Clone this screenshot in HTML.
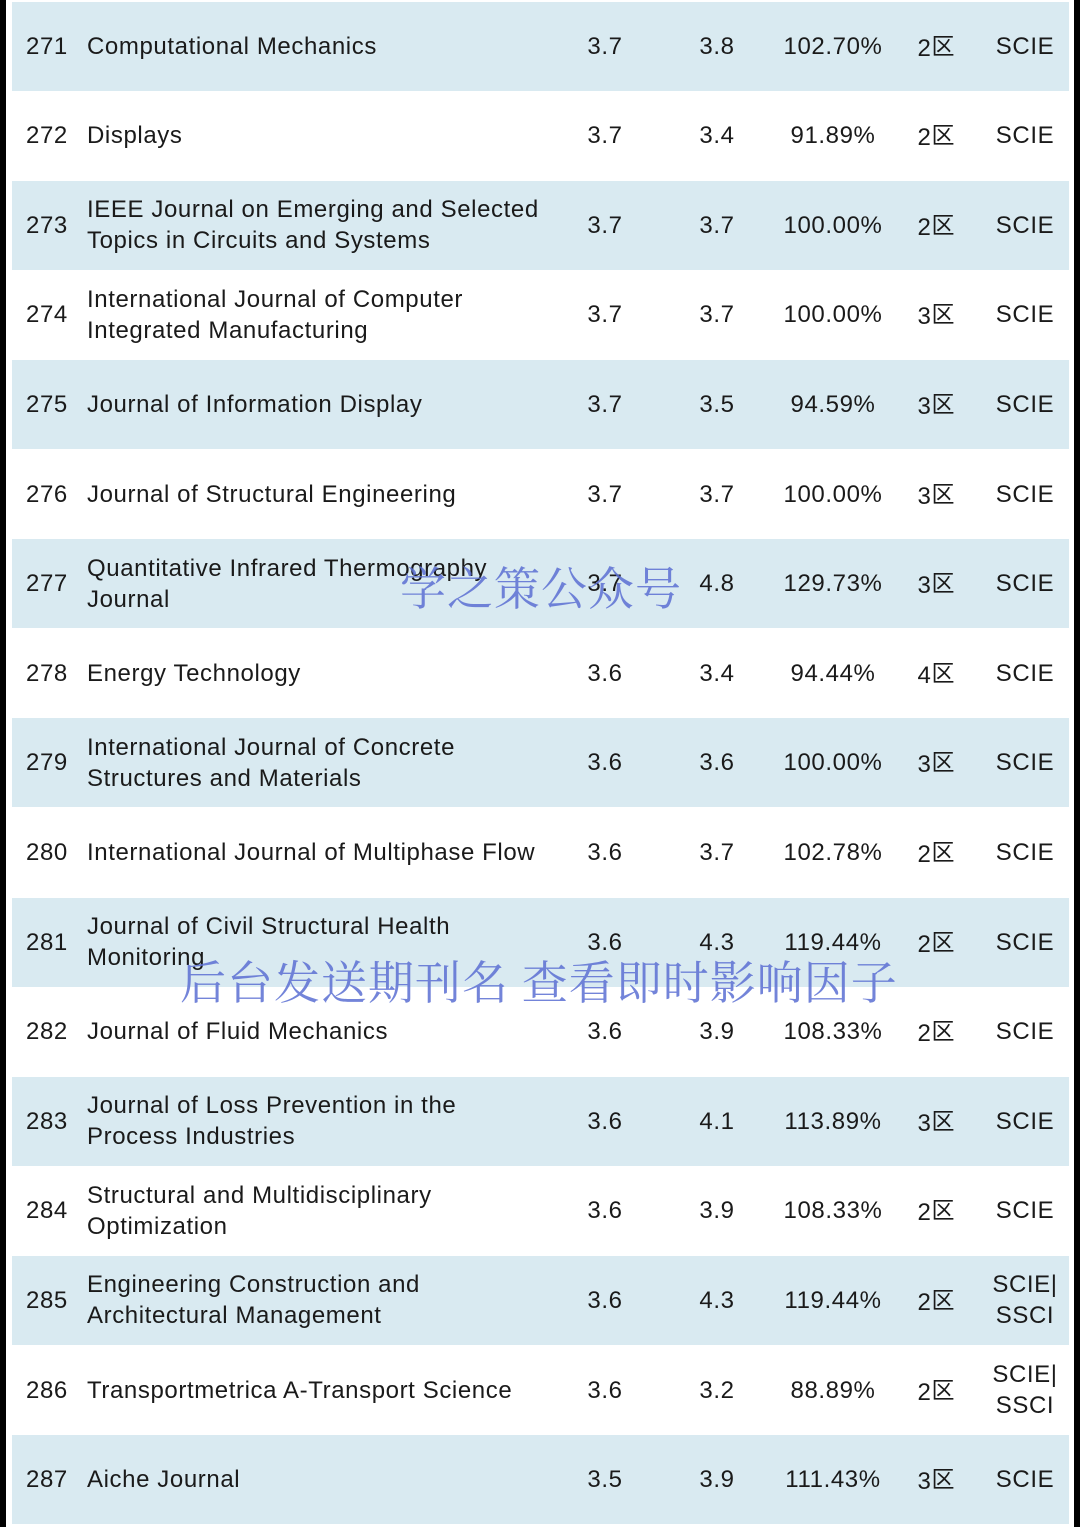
<!DOCTYPE html>
<html><head><meta charset="utf-8">
<style>
html,body{margin:0;padding:0;}
body{width:1080px;height:1527px;position:relative;background:#fff;overflow:hidden;font-family:"Liberation Sans",Arial,sans-serif;color:#1a1a1a;}
.edge{position:absolute;top:0;height:1527px;background:#000;}
.row{position:absolute;left:12px;width:1057px;height:89px;}
.shade{background:#d9eaf1;}
.c{position:absolute;font-size:24px;letter-spacing:0.6px;line-height:31px;white-space:nowrap;}
.ctr{transform:translateX(-50%);text-align:center;}
.z{font-family:"Noto Sans CJK SC",sans-serif;font-size:23px;position:relative;top:-2px;letter-spacing:0;}
.wm{position:absolute;font-family:"Noto Serif CJK SC","WenQuanYi Zen Hei",serif;color:rgba(90,110,210,0.85);white-space:nowrap;font-size:46px;letter-spacing:1px;}
</style></head>
<body>
<div class="edge" style="left:0;width:6px"></div>
<div class="edge" style="left:1074px;width:6px"></div>
<div id="tbl"></div>
<div class="wm" style="left:400px;top:553px;">学之策公众号</div>
<div class="wm" style="left:180px;top:947px;">后台发送期刊名 查看即时影响因子</div>
<script>
const ranks=[271,272,273,274,275,276,277,278,279,280,281,282,283,284,285,286,287];
const names=[["Computational Mechanics"],["Displays"],["IEEE Journal on Emerging and Selected","Topics in Circuits and Systems"],["International Journal of Computer","Integrated Manufacturing"],["Journal of Information Display"],["Journal of Structural Engineering"],["Quantitative Infrared Thermography","Journal"],["Energy Technology"],["International Journal of Concrete","Structures and Materials"],["International Journal of Multiphase Flow"],["Journal of Civil Structural Health","Monitoring"],["Journal of Fluid Mechanics"],["Journal of Loss Prevention in the","Process Industries"],["Structural and Multidisciplinary","Optimization"],["Engineering Construction and","Architectural Management"],["Transportmetrica A-Transport Science"],["Aiche Journal"]];
const if1=["3.7","3.7","3.7","3.7","3.7","3.7","3.7","3.6","3.6","3.6","3.6","3.6","3.6","3.6","3.6","3.6","3.5"];
const if2=["3.8","3.4","3.7","3.7","3.5","3.7","4.8","3.4","3.6","3.7","4.3","3.9","4.1","3.9","4.3","3.2","3.9"];
const pct=["102.70%","91.89%","100.00%","100.00%","94.59%","100.00%","129.73%","94.44%","100.00%","102.78%","119.44%","108.33%","113.89%","108.33%","119.44%","88.89%","111.43%"];
const zone=["2区","2区","2区","3区","3区","3区","3区","4区","3区","2区","2区","2区","3区","2区","2区","2区","3区"];
const idx=[["SCIE"],["SCIE"],["SCIE"],["SCIE"],["SCIE"],["SCIE"],["SCIE"],["SCIE"],["SCIE"],["SCIE"],["SCIE"],["SCIE"],["SCIE"],["SCIE"],["SCIE|","SSCI"],["SCIE|","SSCI"],["SCIE"]];
const tbl=document.getElementById('tbl');
const P=89.6;
function cell(row,txt,left,center,cy,lines){
  const d=document.createElement('div');
  d.className='c'+(center?' ctr':'');
  d.style.left=left+'px';
  d.style.top=(cy-lines*15.5)+'px';
  d.innerHTML=txt;
  row.appendChild(d);return d;
}
ranks.forEach((r,i)=>{
  const row=document.createElement('div');
  
  
  row.className='row'+(i%2===0?' shade':'');
  row.style.top=(1.5+i*P)+'px';
  tbl.appendChild(row);
  const cy=44.5;
  let e;
  e=cell(row,r,14,false,cy,1);
  
  
  e=cell(row,names[i].join('<br>'),75,false,cy,names[i].length);
  
  
  e=cell(row,if1[i],593,true,cy,1);
  
  
  e=cell(row,if2[i],705,true,cy,1);
  
  
  e=cell(row,pct[i],821,true,cy,1);
  
  
  e=cell(row,zone[i].replace('区','<span class="z">区</span>'),924,true,cy,1);
  
  
  e=cell(row,idx[i].join('<br>'),1013,true,cy,idx[i].length);
  
  
});
</script>
</body></html>
